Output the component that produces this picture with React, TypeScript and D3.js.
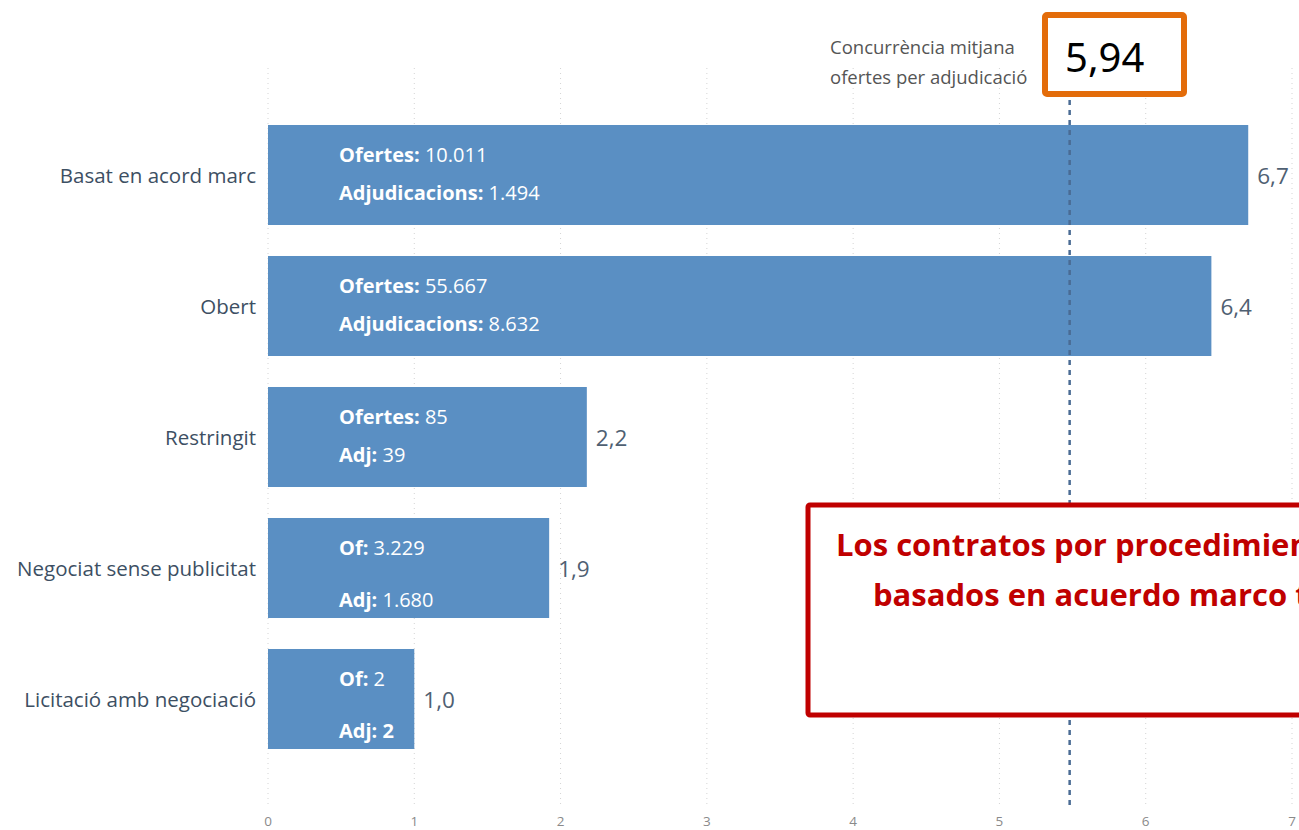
import React from "react";
import * as d3 from "d3";

const categories = ["Basat en acord marc", "Obert", "Restringit", "Negociat sense publicitat", "Licitació amb negociació"];
const ofertes = [10011, 55667, 85, 3229, 2];
const adjudicacions = [1494, 8632, 39, 1680, 2];
const ratioLabels = ["6,7", "6,4", "2,2", "1,9", "1,0"];
const line1Labels = ["Ofertes:", "Ofertes:", "Ofertes:", "Of:", "Of:"];
const line1Values = ["10.011", "55.667", "85", "3.229", "2"];
const line2Labels = ["Adjudicacions:", "Adjudicacions:", "Adj:", "Adj:", "Adj: 2"];
const line2Values = ["1.494", "8.632", "39", "1.680", ""];
const xTicks = [0, 1, 2, 3, 4, 5, 6, 7];
const refLineValue = 5.48;
const refLabel = ["Concurrència mitjana", "ofertes per adjudicació"];
const refValueLabel = "5,94";
const noteLines = ["Los contratos por procedimiento abierto y los", "basados en acuerdo marco tienen más concurrencia"];

export default function App() {
  const W = 1299, H = 830;
  const x = d3.scaleLinear().domain([0, 7]).range([268, 1292]);
  const y = d3.scaleBand<string>().domain(categories).range([109.5, 764.5]).paddingInner(0.2366).paddingOuter(0.1183);
  const ratios = ofertes.map((o, i) => o / adjudicacions[i]);
  const blue = "#5a8fc3";
  const font = "'Open Sans', 'Noto Sans', sans-serif";
  const bw = y.bandwidth();
  const gap2 = [0, 0, 0, 1, 1];
  return (
    <svg width={W} height={H} style={{ position: "absolute", left: 0, top: 0, background: "#fff" }} fontFamily={font}>
      {xTicks.map((t) => (
        <g key={t}>
          <line x1={x(t)} x2={x(t)} y1={68} y2={806} stroke="#d4d4d4" strokeWidth={1} strokeDasharray="1,4" />
          <text x={x(t)} y={826} textAnchor="middle" fontSize={13.5} fill="#8a8a8a">{t}</text>
        </g>
      ))}
      {categories.map((c, i) => {
        const y0 = y(c)!;
        const cy = y0 + bw / 2;
        const wide = gap2[i] === 1;
        const l1y = y0 + 37;
        const l2y = wide ? y0 + 89 : y0 + 75;
        return (
          <g key={c}>
            <rect x={x(0)} y={y0} width={x(ratios[i]) - x(0)} height={bw} fill={blue} />
            <text x={256} y={cy + 8} textAnchor="end" fontSize={20.5} fill="#3d4f63">{c}</text>
            <text x={x(ratios[i]) + 9} y={cy + 9} fontSize={22.5} fill="#4f6072">{ratioLabels[i]}</text>
            <text x={339} y={l1y} fontSize={20} fill="#fff">
              <tspan fontWeight="bold">{line1Labels[i]}</tspan> {line1Values[i]}
            </text>
            <text x={339} y={l2y} fontSize={20} fill="#fff">
              <tspan fontWeight="bold">{line2Labels[i]}</tspan>{line2Values[i] ? " " + line2Values[i] : ""}
            </text>
          </g>
        );
      })}
      <line x1={x(refLineValue)} x2={x(refLineValue)} y1={100} y2={806} stroke="#4a6b94" strokeWidth={2.5} strokeDasharray="5,5" />
      <text x={830} y={54} fontSize={18.5} fill="#555">{refLabel[0]}</text>
      <text x={830} y={84} fontSize={18.5} fill="#555">{refLabel[1]}</text>
      <rect x={1045} y={15} width={139} height={79} fill="#fff" stroke="#e36c0a" strokeWidth={6} rx={2} />
      <text x={1065} y={72} fontSize={40} fill="#000" fontFamily="'Noto Sans', sans-serif">{refValueLabel}</text>
      <rect x={808} y={505} width={600} height={210} fill="#fff" stroke="#c00000" strokeWidth={5} rx={2} />
      <text x={836} y={556} fontSize={31} fontWeight="bold" fill="#c00000" fontFamily="'Open Sans', sans-serif">{noteLines[0]}</text>
      <text x={873} y={606} fontSize={31} fontWeight="bold" fill="#c00000" fontFamily="'Open Sans', sans-serif">{noteLines[1]}</text>
    </svg>
  );
}
